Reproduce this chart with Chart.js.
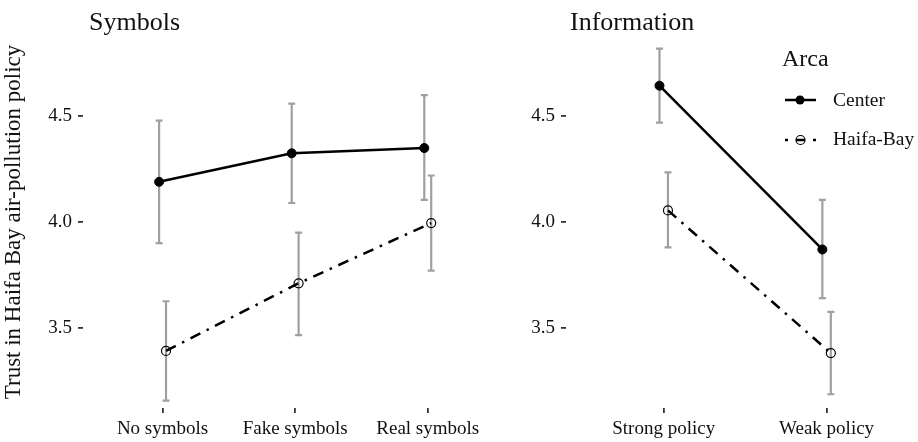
<!DOCTYPE html>
<html>
<head>
<meta charset="utf-8">
<script src="https://cdn.jsdelivr.net/npm/chart.js@4"></script>
<style>
body { margin: 0; background: #fff; width: 918px; height: 442px; overflow: hidden; position: relative; }
canvas { position: absolute; top: 0; }
#symbolsChart { left: 0; }
#infoChart { left: 518px; }
</style>
</head>
<body>
<canvas id="symbolsChart" width="513" height="442"></canvas>
<canvas id="infoChart" width="406" height="442"></canvas>
<script>
// values (means with CI ends)
var symbolCats = ['No symbols', 'Fake symbols', 'Real symbols'];
var symCenter = [4.19, 4.325, 4.35];
var symCenterLow = [3.90, 4.09, 4.105];
var symCenterHigh = [4.48, 4.56, 4.60];
var symHaifa = [3.39, 3.71, 3.995];
var symHaifaLow = [3.155, 3.465, 3.77];
var symHaifaHigh = [3.625, 3.95, 4.22];

var infoCats = ['Strong policy', 'Weak policy'];
var infoCenter = [4.645, 3.87];
var infoCenterLow = [4.47, 3.64];
var infoCenterHigh = [4.82, 4.105];
var infoHaifa = [4.055, 3.38];
var infoHaifaLow = [3.88, 3.185];
var infoHaifaHigh = [4.235, 3.575];

var yTicks = [3.5, 4.0, 4.5];
var groups = ['Center', 'Haifa-Bay'];
var legendTitle = 'Arca';

var SERIF = '"Liberation Serif", "Times New Roman", serif';
var dodge = 0.026;
var dotDash = [11, 7, 2.5, 7];

function dodged(values, shift) {
    return values.map(function(v, i) { return { x: i + 1 + shift, y: v }; });
}

var errorBars = {
    id: 'errorBars',
    beforeDatasetsDraw: function(chart) {
        var ctx = chart.ctx;
        var y = chart.scales.y;
        chart.data.datasets.forEach(function(ds, di) {
            var meta = chart.getDatasetMeta(di);
            ctx.save();
            ctx.strokeStyle = '#a0a0a0';
            ctx.lineWidth = 2.2;
            meta.data.forEach(function(pt, i) {
                var top = y.getPixelForValue(ds.high[i]);
                var bot = y.getPixelForValue(ds.low[i]);
                ctx.beginPath();
                ctx.moveTo(pt.x, top); ctx.lineTo(pt.x, bot);
                ctx.moveTo(pt.x - 3.5, top); ctx.lineTo(pt.x + 3.5, top);
                ctx.moveTo(pt.x - 3.5, bot); ctx.lineTo(pt.x + 3.5, bot);
                ctx.stroke();
            });
            ctx.restore();
        });
    }
};

var panelTitle = {
    id: 'panelTitle',
    afterDraw: function(chart, args, opts) {
        var ctx = chart.ctx;
        ctx.save();
        ctx.font = '26px ' + SERIF;
        ctx.fillStyle = '#111';
        ctx.textBaseline = 'alphabetic';
        ctx.fillText(opts.text, chart.chartArea.left + opts.dx, 30);
        ctx.restore();
    }
};

// legend sits over the right panel
var areaLegend = {
    id: 'areaLegend',
    afterDraw: function(chart, args, opts) {
        if (!opts.show) return;
        var ctx = chart.ctx;
        ctx.save();
        ctx.fillStyle = '#111';
        ctx.textBaseline = 'alphabetic';
        ctx.font = '24px ' + SERIF;
        ctx.fillText(legendTitle, 264, 66);

        ctx.font = '19.5px ' + SERIF;
        ctx.fillText(groups[0], 315, 106);
        ctx.fillText(groups[1], 315, 145);

        // Center key
        ctx.strokeStyle = '#000';
        ctx.lineWidth = 2.5;
        ctx.beginPath();
        ctx.moveTo(267, 100); ctx.lineTo(298, 100);
        ctx.stroke();
        ctx.beginPath();
        ctx.arc(282, 100, 4.5, 0, Math.PI * 2);
        ctx.fillStyle = '#000';
        ctx.fill();

        // Haifa-Bay key
        ctx.beginPath();
        ctx.moveTo(267, 140); ctx.lineTo(270, 140);
        ctx.moveTo(278, 140); ctx.lineTo(287, 140);
        ctx.moveTo(295, 140); ctx.lineTo(298, 140);
        ctx.stroke();
        ctx.lineWidth = 1.2;
        ctx.beginPath();
        ctx.arc(282.5, 140, 4.5, 0, Math.PI * 2);
        ctx.stroke();
        ctx.restore();
    }
};

function makeDatasets(center, centerLow, centerHigh, haifa, haifaLow, haifaHigh) {
    return [
        {
            label: groups[0],
            data: dodged(center, -dodge),
            low: centerLow,
            high: centerHigh,
            showLine: true,
            borderColor: '#000',
            borderWidth: 2.5,
            pointRadius: 4.5,
            pointBackgroundColor: '#000',
            pointBorderColor: '#000',
            pointBorderWidth: 1
        },
        {
            label: groups[1],
            data: dodged(haifa, dodge),
            low: haifaLow,
            high: haifaHigh,
            showLine: true,
            borderColor: '#000',
            borderWidth: 2.5,
            borderDash: dotDash,
            pointRadius: 4.5,
            pointBackgroundColor: 'rgba(0,0,0,0)',
            pointBorderColor: '#000',
            pointBorderWidth: 1.2
        }
    ];
}

function panelOptions(cats, xMax, axisWidth, showYTitle, titleText, titleDx, showLegend) {
    return {
        responsive: false,
        devicePixelRatio: 1,
        animation: false,
        layout: { padding: { top: 36, left: 0, right: 0, bottom: 0 } },
        plugins: {
            legend: { display: false },
            tooltip: { enabled: false },
            panelTitle: { text: titleText, dx: titleDx },
            areaLegend: { show: showLegend }
        },
        scales: {
            x: {
                type: 'linear',
                bounds: 'data',
                min: 0.4,
                max: xMax,
                afterBuildTicks: function(s) {
                    s.ticks = cats.map(function(c, i) { return { value: i + 1 }; });
                },
                afterFit: function(s) { s.height = 34; },
                ticks: {
                    autoSkip: false,
                    maxRotation: 0,
                    padding: 5,
                    color: '#111',
                    font: { family: SERIF, size: 19 },
                    callback: function(v, i) { return cats[i]; }
                },
                grid: { drawOnChartArea: false, tickLength: 5, color: '#333', lineWidth: 1.8 },
                border: { display: false }
            },
            y: {
                type: 'linear',
                bounds: 'data',
                min: 3.12,
                max: 4.88,
                afterBuildTicks: function(s) {
                    s.ticks = yTicks.map(function(v) { return { value: v }; });
                },
                afterFit: function(s) { s.width = axisWidth; },
                ticks: {
                    padding: 6,
                    color: '#111',
                    font: { family: SERIF, size: 19 },
                    callback: function(v) { return v.toFixed(1); }
                },
                grid: { drawOnChartArea: false, tickLength: 5, color: '#333', lineWidth: 1.8 },
                border: { display: false },
                title: {
                    display: showYTitle,
                    text: 'Trust in Haifa Bay air-pollution policy',
                    color: '#111',
                    font: { family: SERIF, size: 23 },
                    padding: { top: 0, bottom: 0 }
                }
            }
        }
    };
}

new Chart(document.getElementById('symbolsChart'), {
    type: 'scatter',
    data: { datasets: makeDatasets(symCenter, symCenterLow, symCenterHigh, symHaifa, symHaifaLow, symHaifaHigh) },
    options: panelOptions(symbolCats, 3.6, 83, true, 'Symbols', 6, false),
    plugins: [errorBars, panelTitle, areaLegend]
});

new Chart(document.getElementById('infoChart'), {
    type: 'scatter',
    data: { datasets: makeDatasets(infoCenter, infoCenterLow, infoCenterHigh, infoHaifa, infoHaifaLow, infoHaifaHigh) },
    options: panelOptions(infoCats, 2.563, 48, false, 'Information', 4, true),
    plugins: [errorBars, panelTitle, areaLegend]
});
</script>
</body>
</html>
